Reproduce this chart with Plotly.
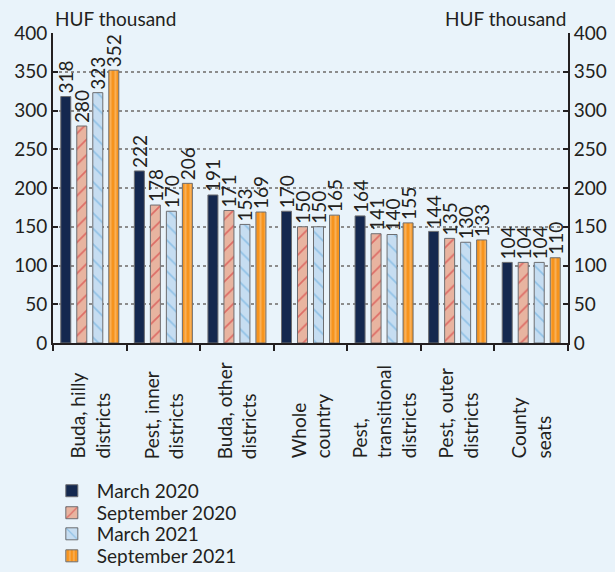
import plotly.graph_objects as go

categories = ["Buda, hilly<br>districts", "Pest, inner<br>districts", "Buda, other<br>districts",
              "Whole<br>country", "Pest,<br>transitional<br>districts", "Pest, outer<br>districts",
              "County<br>seats"]
cat_keys = ["c1", "c2", "c3", "c4", "c5", "c6", "c7"]
march_2020 = [318, 222, 191, 170, 164, 144, 104]
september_2020 = [280, 178, 171, 150, 141, 135, 104]
march_2021 = [323, 170, 153, 150, 140, 130, 104]
september_2021 = [352, 206, 169, 165, 155, 133, 110]
series_names = ["March 2020", "September 2020", "March 2021", "September 2021"]
y_ticks = [0, 50, 100, 150, 200, 250, 300, 350, 400]
unit_label = "HUF thousand"

BG = "#E9F3FA"
TXT = "#231F20"
FONT = "Lato"
FS = 19

styles = [
    dict(color="#14284F", pattern=None),
    dict(color="#E8B4A0", pattern=dict(shape="/", fgcolor="#D2232A", bgcolor="#E8B4A0", size=11, solidity=0.15)),
    dict(color="#C6DDF1", pattern=dict(shape="\\", fgcolor="#5AA6DB", bgcolor="#C6DDF1", size=11, solidity=0.15)),
    dict(color="#F7941D", pattern=dict(shape="|", fgcolor="#FCCB92", bgcolor="#F7941D", size=5, solidity=0.4)),
]
legend_ids = ["legend", "legend2", "legend3", "legend4"]
legend_rows_y = [-0.477, -0.548, -0.616, -0.687]

fig = go.Figure()
for name, vals, st, lid in zip(series_names, [march_2020, september_2020, march_2021, september_2021],
                               styles, legend_ids):
    marker = dict(color=st["color"], line=dict(color="#6D6E71", width=1))
    if st["pattern"]:
        marker["pattern"] = st["pattern"]
    fig.add_trace(go.Bar(
        x=cat_keys, y=vals, name=name, marker=marker, legend=lid,
        text=[str(v) for v in vals], textposition="outside", textangle=-90,
        textfont=dict(family=FONT, size=FS, color=TXT), cliponaxis=False,
        constraintext="none",
    ))

fig.add_trace(go.Scatter(x=[cat_keys[0]], y=[None], yaxis="y2", showlegend=False, hoverinfo="skip"))

for key, lab in zip(cat_keys, categories):
    fig.add_annotation(x=key, xref="x", y=-0.38, yref="paper", text=lab, textangle=-90,
                       align="left", xanchor="center", yanchor="bottom", showarrow=False,
                       font=dict(family=FONT, size=FS, color=TXT))

fig.add_annotation(x=0, xref="paper", xanchor="left", y=1.0, yref="paper", yanchor="bottom",
                   yshift=1, text=unit_label, showarrow=False, font=dict(family=FONT, size=FS, color=TXT))
fig.add_annotation(x=1, xref="paper", xanchor="right", y=1.0, yref="paper", yanchor="bottom",
                   yshift=1, text=unit_label, showarrow=False, font=dict(family=FONT, size=FS, color=TXT))

yax = dict(range=[0, 400], tickvals=y_ticks, showline=True, linecolor=TXT, linewidth=2,
           ticks="inside", ticklen=5, tickcolor=TXT, tickwidth=2,
           tickfont=dict(family=FONT, size=FS, color=TXT), zeroline=False, automargin=False)

legend_layout = {}
for lid, ly in zip(legend_ids, legend_rows_y):
    legend_layout[lid] = dict(x=-0.012, xanchor="left", y=ly, yanchor="middle", orientation="v",
                              font=dict(family=FONT, size=19, color=TXT), bgcolor="rgba(0,0,0,0)",
                              itemwidth=40)

fig.update_layout(
    width=615, height=572, paper_bgcolor=BG, plot_bgcolor=BG,
    margin=dict(l=53, r=47, t=33, b=229, autoexpand=False),
    barmode="group", bargap=0.13, bargroupgap=0.375,
    font=dict(family=FONT, size=FS, color=TXT),
    xaxis=dict(showticklabels=False, showline=True, linecolor=TXT, linewidth=2,
               ticks="outside", ticklen=6, tickcolor=TXT, tickwidth=2, tickson="boundaries",
               showgrid=False, automargin=False),
    yaxis=dict(**yax, showgrid=True, gridcolor="#8C8C8C", griddash="dot", gridwidth=1.5),
    yaxis2=dict(**yax, overlaying="y", side="right", showgrid=False),
    showlegend=True,
    **legend_layout,
)

fig.write_html("out.html", config={"displayModeBar": False},
               post_script="document.body.style.margin='0';document.body.style.overflow='hidden';")
